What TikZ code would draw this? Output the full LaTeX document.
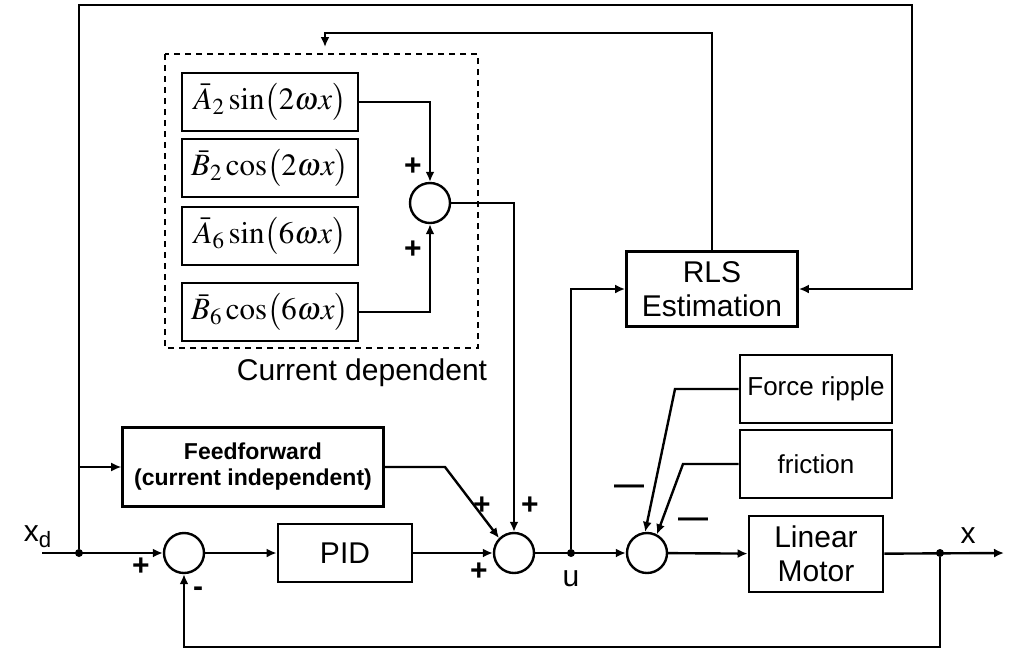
\documentclass[tikz,border=0pt]{standalone}
\usepackage{mathptmx}
\usepackage{fontspec}
\setmainfont{Liberation Sans}
\usetikzlibrary{arrows.meta,positioning}

\begin{document}
\begin{tikzpicture}[x=0.5pt, y=-0.5pt,
  blk/.style={draw, line width=1.4pt, inner sep=1pt, align=center},
  mth/.style={blk, minimum width=88pt, minimum height=29pt, font=\fontsize{15.5}{17}\selectfont},
  sumc/.style={draw, circle, line width=1.2pt, minimum size=20pt, inner sep=0pt},
  sig/.style={line width=1.2pt, -{Latex[length=5pt,width=4.5pt]}},
  jdot/.style={circle, fill, inner sep=0pt, minimum size=4pt},
  sgn/.style={font=\fontsize{15}{15}\selectfont\bfseries, inner sep=0pt},
  lbl/.style={font=\fontsize{15}{17}\selectfont, inner sep=0pt}]
\useasboundingbox (0,0) rectangle (1017,650);
% current dependent terms
\node[mth] (a2) at (270,102) {$\bar{A}_2\sin\bigl(2\omega x\bigr)$};
\node[mth] (b2) at (270,168) {$\bar{B}_2\cos\bigl(2\omega x\bigr)$};
\node[mth] (a6) at (270,236) {$\bar{A}_6\sin\bigl(6\omega x\bigr)$};
\node[mth] (b6) at (270,312) {$\bar{B}_6\cos\bigl(6\omega x\bigr)$};
\node[sumc] (sum0) at (430,203) {};
\draw[line width=1.4pt, dash pattern=on 3pt off 2.5pt] (165,54) rectangle (478,348);
\node[lbl] (curdep) at (362,373) {Current dependent};
\draw[sig] (a2.east) -| (sum0.north);
\draw[sig] (b6.east) -| (sum0.south);
\node[sgn] (p1) at (413,167) {+};
\node[sgn] (p2) at (413,250) {+};
% main loop blocks
\node[lbl] (xd) at (38,537) {x\textsubscript{d}};
\coordinate (xin) at (42,553);
\node[jdot] (jxd) at (79,553) {};
\node[sumc] (sum1) at (184,553) {};
\node[blk, minimum width=67pt, minimum height=29pt, font=\fontsize{15}{17}\selectfont] (pid) at (345,553) {PID};
\node[sumc] (sum2) at (514,553) {};
\node[jdot] (ju) at (571,553) {};
\node[lbl] (u) at (571,579) {u};
\node[sumc] (sum3) at (647,553) {};
\node[blk, minimum width=67pt, minimum height=38pt, font=\fontsize{15}{17}\selectfont] (motor) at (816,554) {Linear\\Motor};
\node[jdot] (jout) at (940,553) {};
\coordinate (xout) at (1004,553);
\node[lbl] (x) at (968,536) {x};
\node[blk, minimum width=130.5pt, minimum height=39.5pt, font=\fontsize{11.5}{13}\selectfont\bfseries] (ff) at (253,467) {Feedforward\\(current independent)};
\node[blk, minimum width=85.5pt, minimum height=37.5pt, font=\fontsize{15}{17}\selectfont] (rls) at (712,289) {RLS\\Estimation};
\node[blk, minimum width=76pt, minimum height=34pt, font=\fontsize{13}{15}\selectfont] (ripple) at (816,389) {Force ripple};
\node[blk, minimum width=76pt, minimum height=34pt, font=\fontsize{13}{15}\selectfont] (fric) at (816,464) {friction};
% signs
\node[sgn] (p3) at (141,567) {+};
\node[sgn] (m1) at (198,592) {-};
\node[sgn] (p4) at (482,506) {+};
\node[sgn] (p5) at (530,506) {+};
\node[sgn] (p6) at (479,572) {+};
\node[sgn] (m2) at (629,490) {---};
\node[sgn] (m3) at (693,523) {---};
% connectors
\coordinate (fftap) at (79,467);
\coordinate (ffbend) at (445,467);
\coordinate (rbend) at (675,389);
\coordinate (fbend) at (683,464);
\coordinate (topright) at (912,5);
\coordinate (fbtop) at (325,33);
\coordinate (fbend2) at (325,47);
\coordinate (fbbot) at (940,647);
\draw[sig] (xin) -- (sum1);
\draw[sig] (sum1) -- (pid);
\draw[sig] (pid) -- (sum2);
\draw[sig] (sum2) -- (sum3);
\draw[sig] (sum3) -- (motor);
\draw[sig] (motor) -- (xout);
\draw[sig] (sum0.east) -| (sum2.north);
\draw[sig] (ff.east) -- (ffbend) -- (sum2.north west);
\draw[sig, line width=0.7pt] (fftap) -- (ff.west);
\draw[sig] (jxd) |- (topright) |- (rls.east);
\draw[sig] (rls.north) |- (fbtop) -- (fbend2);
\draw[sig] (ju) |- (rls.west);
\draw[sig] (ripple.west) -- (rbend) -- (sum3.95);
\draw[sig] (fric.west) -- (fbend) -- (sum3.62);
\draw[sig] (jout) -- (fbbot) -| (sum1.south);
\end{tikzpicture}
\end{document}
